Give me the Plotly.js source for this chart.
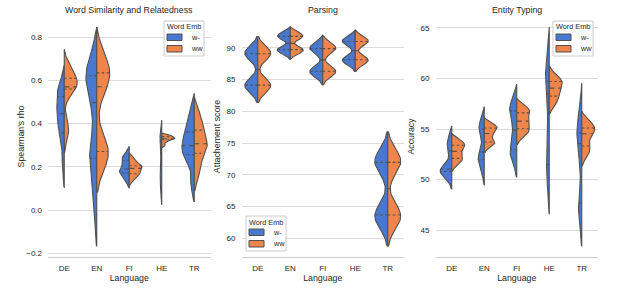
<!DOCTYPE html>
<html><head><meta charset="utf-8">
<script src="https://cdn.plot.ly/plotly-3.0.1.min.js"></script>
<style>html,body{margin:0;padding:0;background:#fff}#chart{width:628px;height:292px}</style>
</head><body><div id="chart"></div>
<script>
// ---------------- data ----------------
const languages = ['DE', 'EN', 'FI', 'HE', 'TR'];
const hueNames = ['w-', 'ww'];
const panelTitles = ['Word Similarity and Relatedness', 'Parsing', 'Entity Typing'];
const yTitles = ["Spearman's rho", 'Attachement score', 'Accuracy'];
const xTitle = 'Language';
const legendTitle = 'Word Emb';

// Word similarity and relatedness (Spearman's rho), one list per language
const simW = [
  [0.20, 0.33, 0.356, 0.42, 0.446, 0.47, 0.524, 0.55, 0.575],
  [0.02, 0.20, 0.24, 0.30, 0.497, 0.60, 0.621, 0.63, 0.66],
  [0.135, 0.16, 0.17, 0.18, 0.19, 0.21, 0.228, 0.24, 0.26],
  [0.10, 0.13, 0.15, 0.17, 0.25, 0.30, 0.32, 0.33, 0.34],
  [0.12, 0.22, 0.256, 0.28, 0.298, 0.33, 0.362, 0.40, 0.46]
];
const simWW = [
  [0.35, 0.39, 0.56, 0.565, 0.57, 0.59, 0.61, 0.63, 0.66],
  [0.24, 0.255, 0.271, 0.29, 0.571, 0.60, 0.635, 0.66, 0.69],
  [0.14, 0.16, 0.168, 0.18, 0.193, 0.20, 0.205, 0.22, 0.24],
  [0.30, 0.315, 0.325, 0.328, 0.33, 0.333, 0.34, 0.342, 0.345],
  [0.16, 0.22, 0.263, 0.29, 0.307, 0.33, 0.37, 0.40, 0.45]
];
// Parsing (attachment score)
const parW = [
  [83.6, 83.9, 84.2, 84.5, 88.7, 89.0, 89.3, 89.6],
  [89.2, 89.5, 89.8, 90.0, 91.4, 91.75, 92.0, 92.3],
  [85.8, 86.1, 86.4, 86.7, 89.5, 89.8, 90.1, 90.4],
  [87.6, 87.9, 88.2, 88.5, 90.6, 90.95, 91.2, 91.5],
  [62.5, 63.2, 63.8, 64.4, 71.2, 71.8, 72.4, 73.0]
];
const parWW = [
  [83.6, 83.9, 84.2, 84.5, 88.7, 89.0, 89.3, 89.6],
  [89.2, 89.5, 89.8, 90.0, 91.4, 91.75, 92.0, 92.3],
  [85.8, 86.1, 86.4, 86.7, 89.5, 89.8, 90.1, 90.4],
  [87.6, 87.9, 88.2, 88.5, 90.6, 90.95, 91.2, 91.5],
  [62.5, 63.2, 63.8, 64.4, 71.2, 71.8, 72.4, 73.0]
];
// Entity typing (accuracy)
const etW = [
  [50.2, 50.6, 50.8, 50.95, 51.05, 51.5, 52.83, 53.4, 54.2],
  [50.9, 51.6, 51.97, 52.4, 52.73, 54.3, 55.0, 55.3, 55.8],
  [52.0, 52.4, 52.97, 53.8, 54.9, 56.2, 56.8, 57.2, 57.7],
  [50.2, 50.8, 51.5, 55.0, 58.5, 59.2, 59.7, 60.5, 61.5],
  [46.5, 47.1, 47.7, 51.5, 53.55, 54.2, 54.6, 55.2, 56.5]
];
const etWW = [
  [51.5, 51.9, 52.1, 52.5, 52.8, 53.2, 53.4, 53.6, 53.9],
  [53.3, 53.6, 53.72, 54.2, 54.57, 54.9, 55.1, 55.25, 55.5],
  [54.3, 54.7, 55.03, 55.4, 55.79, 56.2, 56.6, 56.9, 57.2],
  [57.3, 57.9, 58.26, 58.7, 59.05, 59.4, 59.7, 59.9, 60.4],
  [52.3, 52.9, 53.32, 54.0, 54.54, 54.8, 55.1, 55.4, 55.8]
];
const yTickVals = [
  [-0.2, 0.0, 0.2, 0.4, 0.6, 0.8],
  [60, 65, 70, 75, 80, 85, 90],
  [45, 50, 55, 60, 65]
];
const yTickText = [
  ['\u22120.2', '0.0', '0.2', '0.4', '0.6', '0.8'],
  ['60', '65', '70', '75', '80', '85', '90'],
  ['45', '50', '55', '60', '65']
];

// ---------------- style ----------------
const COLORS = ['#4878d0', '#ee854a'];
const GRAY = '#505050';
const FONT = 'Liberation Sans, Arial, sans-serif';
const TXT = '#262626';
const BW = 0.4, CUT = 2, GRID = 100, HALF = 0.4;
const W = 628, H = 292, M = { l: 48, r: 30, t: 16, b: 35 };
const px2x = px => (px - M.l) / (W - M.l - M.r);
const py2y = py => (H - M.b - py) / (H - M.t - M.b);

// ---------------- helpers ----------------
function kde(a) {
  const n = a.length;
  const m = a.reduce((s, v) => s + v, 0) / n;
  const sd = Math.sqrt(a.reduce((s, v) => s + (v - m) * (v - m), 0) / (n - 1));
  const bw = BW * sd;
  const lo = Math.min(...a) - CUT * bw, hi = Math.max(...a) + CUT * bw;
  const ys = [], ds = [];
  for (let i = 0; i < GRID; i++) {
    const y = lo + (hi - lo) * i / (GRID - 1);
    let s = 0;
    for (const v of a) { const z = (y - v) / bw; s += Math.exp(-0.5 * z * z); }
    ys.push(y); ds.push(s / (n * bw * Math.sqrt(2 * Math.PI)));
  }
  return { ys, ds, lo, hi };
}
function pct(a, p) {
  const s = [...a].sort((x, y) => x - y);
  const idx = (s.length - 1) * p, l = Math.floor(idx), h = Math.ceil(idx);
  return s[l] + (s[h] - s[l]) * (idx - l);
}

const panels = [[simW, simWW], [parW, parWW], [etW, etWW]];
const traces = [];
const layout = {
  width: W, height: H, margin: M,
  paper_bgcolor: '#fff', plot_bgcolor: '#fff',
  font: { family: FONT, color: TXT, size: 8 },
  showlegend: false,
  annotations: [], shapes: []
};
const domains = [[px2x(48), px2x(210.5)], [px2x(241.5), px2x(404)], [px2x(435.5), px2x(598)]];
const legendBoxes = [[164, 21], [246, 216], [553, 21]]; // top-left corner in px
const titleStandoff = [0, 4, 4];

panels.forEach((pair, k) => {
  const sfx = k === 0 ? '' : String(k + 1);
  const xa = 'x' + sfx, ya = 'y' + sfx;
  let gLo = Infinity, gHi = -Infinity;
  const qx = [], qy = [], mx = [], my = [];
  languages.forEach((lang, i) => {
    const ks = pair.map(h => kde(h[i]));
    const maxD = Math.max(...ks.map(kk => Math.max(...kk.ds)));
    ks.forEach((kk, h) => {
      const sign = h === 0 ? -1 : 1;
      gLo = Math.min(gLo, kk.lo); gHi = Math.max(gHi, kk.hi);
      const xs = kk.ds.map(d => i + sign * HALF * d / maxD);
      const ys = kk.ys.slice();
      xs.push(i, i, xs[0]); ys.push(kk.hi, kk.lo, ys[0]);
      traces.push({
        type: 'scatter', mode: 'lines', x: xs, y: ys, xaxis: xa, yaxis: ya,
        fill: 'toself', fillcolor: COLORS[h],
        line: { color: GRAY, width: 1.1 },
        name: hueNames[h] + ' ' + lang, hoverinfo: 'skip'
      });
      const data = pair[h][i];
      [0.25, 0.5, 0.75].forEach(p => {
        const v = pct(data, p);
        let best = 0;
        kk.ys.forEach((y, j) => { if (Math.abs(y - v) < Math.abs(kk.ys[best] - v)) best = j; });
        const w = HALF * kk.ds[best] / maxD * 0.99;
        const tx = p === 0.5 ? mx : qx, ty = p === 0.5 ? my : qy;
        tx.push(i, i + sign * w, null); ty.push(v, v, null);
      });
    });
  });
  traces.push({ type: 'scatter', mode: 'lines', x: qx, y: qy, xaxis: xa, yaxis: ya,
    line: { color: GRAY, width: 1.1, dash: '2.5px,2.5px' }, hoverinfo: 'skip' });
  traces.push({ type: 'scatter', mode: 'lines', x: mx, y: my, xaxis: xa, yaxis: ya,
    line: { color: GRAY, width: 1.1, dash: '5px,4px' }, hoverinfo: 'skip' });

  const pad = 0.05 * (gHi - gLo);
  layout['xaxis' + sfx] = {
    domain: domains[k], anchor: ya, range: [-0.5, 4.5],
    tickvals: languages.map((_, i) => i), ticktext: languages,
    showgrid: false, zeroline: false, showline: true, linecolor: '#cccccc', linewidth: 1,
    ticks: '', ticklabelstandoff: 3, tickfont: { size: 8, color: TXT, family: FONT },
    title: { text: xTitle, font: { size: 8.8, color: TXT, family: FONT }, standoff: 3 },
    fixedrange: true
  };
  layout['yaxis' + sfx] = {
    domain: [0, 1], anchor: xa, range: [gLo - pad, gHi + pad],
    tickvals: yTickVals[k], ticktext: yTickText[k],
    showgrid: true, gridcolor: '#dcdcdc', gridwidth: 1, zeroline: false, showline: false,
    ticks: '', ticklabelstandoff: 5, tickfont: { size: 8, color: TXT, family: FONT },
    title: { text: yTitles[k], font: { size: 8.8, color: TXT, family: FONT }, standoff: titleStandoff[k] },
    fixedrange: true
  };
  layout.annotations.push({
    xref: 'paper', yref: 'paper', x: (domains[k][0] + domains[k][1]) / 2, y: py2y(10),
    xanchor: 'center', yanchor: 'middle', showarrow: false,
    text: panelTitles[k], font: { size: 8.8, color: TXT, family: FONT }
  });

  // legend (guide, not data): box, title, colour patches, labels
  const [bx, by] = legendBoxes[k];
  layout.shapes.push({ type: 'rect', xref: 'paper', yref: 'paper',
    x0: px2x(bx), x1: px2x(bx + 40), y0: py2y(by), y1: py2y(by + 35),
    fillcolor: 'rgba(255,255,255,0.85)', line: { color: '#cccccc', width: 1 } });
  layout.annotations.push({ xref: 'paper', yref: 'paper', x: px2x(bx + 20), y: py2y(by + 6),
    xanchor: 'center', yanchor: 'middle', showarrow: false, text: legendTitle,
    font: { size: 7.3, color: TXT, family: FONT } });
  hueNames.forEach((hn, h) => {
    const top = by + 13 + h * 11.5;
    layout.shapes.push({ type: 'rect', xref: 'paper', yref: 'paper',
      x0: px2x(bx + 3), x1: px2x(bx + 18), y0: py2y(top), y1: py2y(top + 6.5),
      fillcolor: COLORS[h], line: { color: GRAY, width: 1 } });
    layout.annotations.push({ xref: 'paper', yref: 'paper', x: px2x(bx + 25), y: py2y(top + 3.3),
      xanchor: 'left', yanchor: 'middle', showarrow: false, text: hn,
      font: { size: 7.3, color: TXT, family: FONT } });
  });
});

Plotly.newPlot('chart', traces, layout, { staticPlot: true, displayModeBar: false });
</script>
</body></html>
